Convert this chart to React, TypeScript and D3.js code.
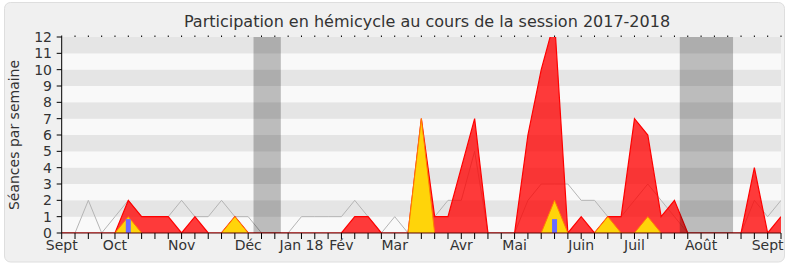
import React from "react";
import * as d3 from "d3";

// Week indices 0..54 (Sept 2017 -> Sept 2018)
const weeks: number[] = Array.from({ length: 55 }, (_, i) => i);

// Median / reference participation (grey line)
const medianValues: number[] = [
  0, 0, 2, 0, 1, 2, 1, 1, 1, 2, 1, 1, 2, 1, 1, 0, 0, 0, 1, 1,
  1, 1, 2, 1, 0, 1, 0, 1, 1, 2, 2, 5, 0, 0, 0, 2, 3, 3, 3, 2,
  2, 1, 1, 2, 3, 2, 1, 0, 0, 0, 0, 0, 2, 1, 2,
];

// Présences (red area)
const presenceValues: number[] = [
  0, 0, 0, 0, 0, 2, 1, 1, 1, 0, 1, 0, 0, 1, 0, 0, 0, 0, 0, 0,
  0, 0, 1, 1, 0, 0, 0, 7, 1, 1, 4, 7, 0, 0, 0, 6, 10, 13, 0, 1,
  0, 1, 1, 7, 6, 1, 2, 0, 0, 0, 0, 0, 4, 0, 1,
];

// Interventions (yellow area)
const interventionValues: number[] = [
  0, 0, 0, 0, 0, 1, 0, 0, 0, 0, 0, 0, 0, 1, 0, 0, 0, 0, 0, 0,
  0, 0, 0, 0, 0, 0, 0, 7, 0, 0, 0, 0, 0, 0, 0, 0, 0, 2, 0, 0,
  0, 1, 0, 0, 1, 0, 0, 0, 0, 0, 0, 0, 0, 0, 0,
];

// Questions (blue bars)
const questionWeeks: number[] = [5, 37];
const questionValues: number[] = [0.85, 0.85];

// Vacation periods (in week units)
const vacationStarts: number[] = [14.4, 46.4];
const vacationEnds: number[] = [16.45, 50.4];

// Axis labels
const monthLabels: string[] = ["Sept", "Oct", "Nov", "Déc", "Jan 18", "Fév", "Mar", "Avr", "Mai", "Juin", "Juil", "Août", "Sept"];
const monthWeeks: number[] = [0, 4, 9, 14, 18, 21, 25, 30, 34, 39, 43, 48, 53];
const yTicks: number[] = [0, 1, 2, 3, 4, 5, 6, 7, 8, 9, 10, 11, 12];

const title = "Participation en hémicycle au cours de la session 2017-2018";
const yTitle = "Séances par semaine";

const W = 790;
const H = 267;
const left = 61.7;
const right = 781;
const top = 37;
const bottom = 233;
const FONT = "'DejaVu Sans', sans-serif";

export default function App() {
  const x = d3.scaleLinear().domain([0, 54]).range([left, right]);
  const y = d3.scaleLinear().domain([0, 12]).range([bottom, top]);

  const area = (vals: number[]) =>
    d3
      .area<number>()
      .x((_, i) => x(weeks[i]))
      .y0(y(0))
      .y1((d) => y(d))(vals) || "";
  const line = (vals: number[]) =>
    d3
      .line<number>()
      .x((_, i) => x(weeks[i]))
      .y((d) => y(d))(vals) || "";

  const stripes = yTicks.slice(0, -1).map((v) => ({ v, grey: v % 2 === 1 }));

  const yellowOutline =
    d3
      .line<number>()
      .defined(
        (d, i) =>
          d > 0 ||
          (i > 0 && interventionValues[i - 1] > 0) ||
          (i < interventionValues.length - 1 && interventionValues[i + 1] > 0)
      )
      .x((_, i) => x(weeks[i]))
      .y((d) => y(d))(interventionValues) || "";

  return (
    <svg
      width={W}
      height={H}
      style={{ position: "absolute", left: 0, top: 0, fontFamily: FONT }}
    >
      <defs>
        <clipPath id="plotClip">
          <rect x={left} y={top} width={right - left} height={bottom - top} />
        </clipPath>
      </defs>
      <rect x={0} y={0} width={W} height={H} fill="#ffffff" />
      <rect x={4.5} y={2.5} width={780} height={259.5} rx={6} fill="#f0f0f0" stroke="#dedede" />
      <text x={427} y={27} textAnchor="middle" fontSize={16} fill="#333">
        {title}
      </text>

      {/* stripes */}
      {stripes.map((s) => (
        <rect
          key={s.v}
          x={left}
          y={y(s.v + 1)}
          width={right - left}
          height={y(s.v) - y(s.v + 1)}
          fill={s.grey ? "#e5e5e5" : "#f9f9f9"}
        />
      ))}

      <g clipPath="url(#plotClip)">
        {/* median line */}
        <path d={line(medianValues)} fill="none" stroke="#b4b4b4" strokeWidth={1} />
        {/* presences */}
        <path d={area(presenceValues)} fill="rgba(255,0,0,0.77)" stroke="none" />
        <path d={line(presenceValues)} fill="none" stroke="#ff0000" strokeWidth={1.2} />
        {/* interventions */}
        <path d={area(interventionValues)} fill="#ffd40a" stroke="none" />
        <path d={yellowOutline} fill="none" stroke="#ff8000" strokeWidth={1} />
        {/* questions */}
        {questionWeeks.map((w, i) => (
          <rect
            key={w}
            x={x(w) - 2.5}
            y={y(questionValues[i])}
            width={5}
            height={y(0) - y(questionValues[i])}
            fill="#6b6bff"
          />
        ))}
        {/* vacations */}
        {vacationStarts.map((s, i) => (
          <rect
            key={s}
            x={x(s)}
            y={top}
            width={x(vacationEnds[i]) - x(s)}
            height={bottom - top}
            fill="#000"
            fillOpacity={0.245}
          />
        ))}
      </g>

      {/* axes */}
      <line x1={left} x2={left} y1={top} y2={bottom} stroke="#000" strokeWidth={1} />
      <line x1={left} x2={right} y1={bottom} y2={bottom} stroke="#5a0000" strokeWidth={1.2} />
      {yTicks.map((t) => (
        <g key={t}>
          <line x1={left - 5} x2={left} y1={y(t)} y2={y(t)} stroke="#000" />
          <text x={52} y={y(t) + 5} textAnchor="end" fontSize={14} fill="#333">
            {t}
          </text>
        </g>
      ))}
      {weeks.map((w) => (
        <g key={w}>
          <line x1={x(w)} x2={x(w)} y1={bottom} y2={bottom + 6} stroke="#000" />
          <rect x={x(w) - 0.5} y={top - 1.5} width={1} height={1.5} fill="#000" />
        </g>
      ))}
      {monthLabels.map((m, i) => (
        <text key={i} x={x(monthWeeks[i])} y={250} textAnchor="middle" fontSize={14} fill="#333">
          {m}
        </text>
      ))}
      <text
        transform={`translate(18.5,${(top + bottom) / 2}) rotate(-90)`}
        textAnchor="middle"
        fontSize={14}
        fill="#333"
      >
        {yTitle}
      </text>
    </svg>
  );
}
